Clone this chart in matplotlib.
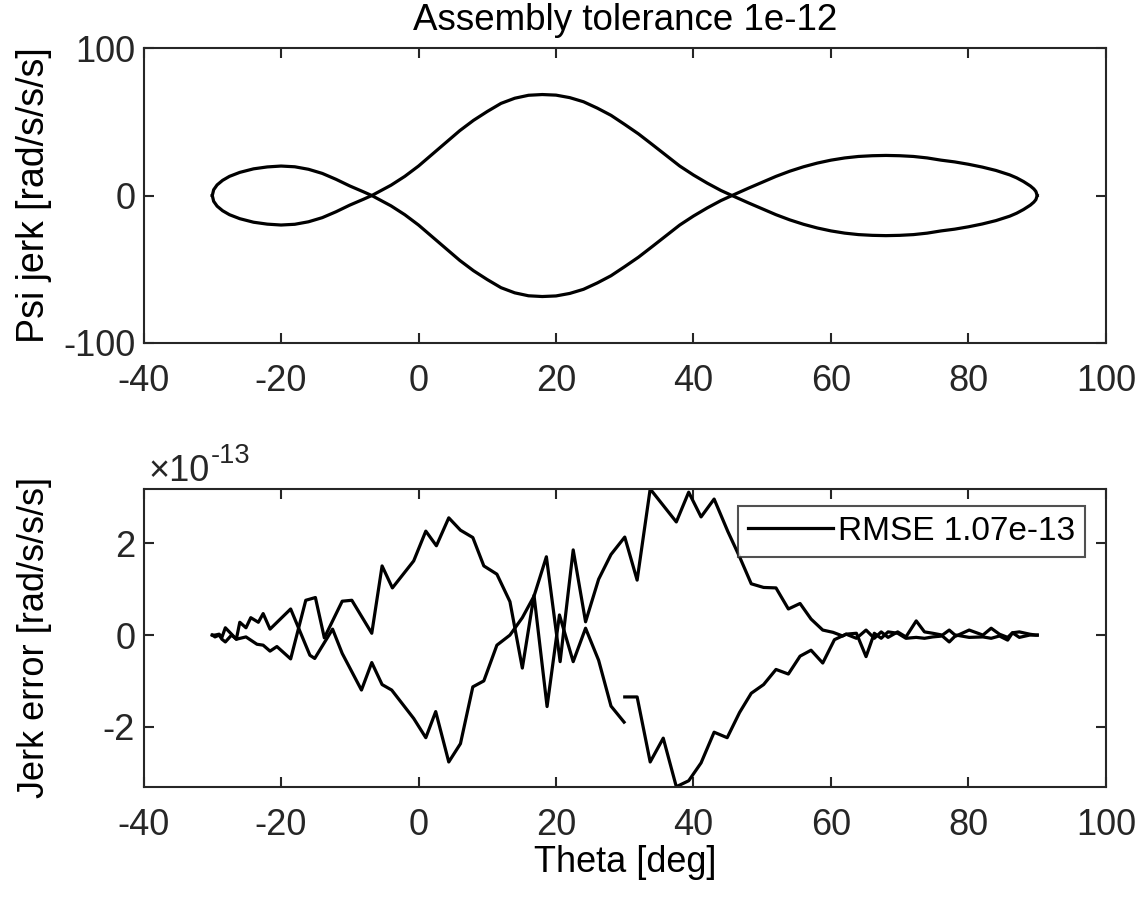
import numpy as np
import matplotlib
matplotlib.use("Agg")
import matplotlib.pyplot as plt
from matplotlib.ticker import FuncFormatter

plt.rcParams['font.family'] = ['Liberation Sans', 'DejaVu Sans']
plt.rcParams['axes.unicode_minus'] = False

# ---- top panel: psi jerk vs theta (two branches of a closed loop) ----
theta_psi = [-30, -29.8, -29.3, -28.5, -27.5, -26, -24, -22, -20, -18, -16, -14, -12,
             -10, -8, -6.8, -4, -2, 0, 2, 4, 6, 8, 10, 12, 14, 16, 18, 20, 22, 24, 26,
             28, 30, 32, 34, 36, 38, 40, 42, 44, 45.6, 48, 50, 52, 54, 56, 58, 60, 62,
             64, 66, 68, 70, 72, 74, 76, 78, 80, 82, 84, 86, 87, 88, 89, 89.5, 89.8, 90]
psi_upper = [0, 3.9, 7.2, 10.3, 13, 15.7, 18.1, 19.4, 20, 19.5, 17.8, 15, 11,
             6.5, 2.5, 0, -7, -13, -20, -28, -36, -44, -51, -57, -62.5, -66, -68, -68.5,
             -68.1, -66.4, -63.6, -59.3, -54.4, -48.2, -41.8, -34.6, -27.3, -20, -13.9,
             -8.4, -3.4, 0,
             5, 9, 13, 16.5, 19.5, 22, 24, 25.5, 26.5, 27, 27.2, 27, 26.5, 25.5, 24,
             22.8, 21.2, 19.3, 17, 14, 12, 9.5, 6.5, 4.5, 2.8, 0]
psi_lower = [0, -3.9, -7.2, -10.3, -13, -15.7, -18.1, -19.4, -20, -19.5, -17.8, -15, -11,
             -6.5, -2.5, 0, 7, 13, 20, 28, 36, 44, 51, 57, 62.5, 66, 68, 68.5,
             68.1, 66.4, 63.6, 59.3, 54.4, 48.2, 41.8, 34.6, 27.3, 20, 13.9,
             8.4, 3.4, 0,
             -5, -9, -13, -16.5, -19.5, -22, -24, -25.5, -26.5, -27, -27.2, -27, -26.5,
             -25.5, -24, -22.8, -21.2, -19.3, -17, -14, -12, -9.5, -6.5, -4.5, -2.8, 0]

# ---- bottom panel: jerk error (units of 1e-13) ----
err_scale = 1e-13
theta_a = [-30, -29.6, -29.0, -28.6, -28.1, -27.2, -26.5, -26.0, -25.1, -24.4, -23.3,
           -22.6, -21.6, -20.1, -18.6, -15.8, -15.1, -12.5, -11.1, -8.3, -6.8, -5.3,
           -3.9, -0.7, 1.06, 2.5, 4.4, 6.1, 7.9, 9.5, 11.4, 13.3, 15.1, 16.8, 18.6,
           20.6, 22.5, 24.3, 26.2, 28.0, 30.0, 31.8, 33.7, 37.5, 39.3, 41.1, 43.0,
           45.0, 46.7, 48.4, 50.2, 52.0, 53.8, 55.5, 57.1, 58.8, 60.3, 61.7, 62.2,
           63.7, 65.1, 66.3, 67.3, 68.3, 69.7, 70.9, 72.4, 73.6, 74.8, 76.2, 77.2,
           78.2, 80.1, 82.1, 83.3, 84.5, 85.7, 86.4, 87.4, 88.9, 89.8, 90]
err_a = [0, 0, 0.02, -0.05, 0.16, 0.02, -0.09, 0.28, 0.16, 0.38, 0.28,
         0.47, 0.13, 0.35, 0.57, -0.44, -0.51, 0.13, -0.4, -1.2, -0.6, -1.08,
         -1.2, -1.82, -2.24, -1.67, -2.77, -2.37, -1.13, -1.0, -0.22, 0.0, 0.38, 0.85, 1.71,
         -0.58, 1.86, 0.29, 1.22, 1.76, 2.14, 1.2, 3.19, 2.47, 3.12, 2.58, 2.97,
         2.26, 1.71, 1.12, 1.04, 1.03, 0.57, 0.69, 0.35, 0.11, 0.06, -0.02, 0.02,
         -0.07, 0.11, -0.07, 0.07, -0.05, 0.07, -0.04, 0.31, 0.07, 0.04, 0.0, 0.11,
         -0.02, 0.11, 0.0, 0.15, 0.02, -0.05, 0.05, 0.07, 0.02, 0.0, 0]
theta_b = [-30, -29.6, -29.0, -28.6, -28.1, -27.2, -26.5, -25.1, -23.5, -22.6, -21.6,
           -20.6, -18.6, -16.4, -15.0, -13.7, -11.1, -9.7, -6.8, -5.3, -3.8, -0.7,
           1.06, 2.6, 4.4, 6.1, 7.9, 9.5, 11.4, 13.3, 15.1, 16.8, 18.7, 20.5, 22.5,
           24.3, 26.2, 28.0, 29.9]
err_b = [0, -0.04, 0.0, -0.09, -0.15, 0.0, -0.09, -0.04, -0.2, -0.22, -0.35,
         -0.25, -0.52, 0.76, 0.82, -0.06, 0.74, 0.76, 0.04, 1.51, 1.03, 1.62,
         2.27, 1.95, 2.56, 2.29, 2.13, 1.51, 1.33, 0.73, -0.72, 0.87, -1.56, 0.44, -0.58,
         0.15, -0.55, -1.55, -1.9]
theta_c = [30.0, 31.8, 33.7, 35.6, 37.5, 39.3, 41.1, 43.0, 44.9, 46.7, 48.4, 50.2,
           52.0, 53.8, 55.5, 57.1, 58.8, 60.5, 62.2, 63.7, 65.1, 66.3, 67.3, 68.3,
           69.7, 70.9, 72.4, 73.6, 74.8, 76.2, 77.2, 78.2, 80.1, 82.1, 83.3, 84.5,
           85.7, 86.4, 87.4, 88.9, 89.8, 90]
err_c = [-1.35, -1.35, -2.77, -2.25, -3.31, -3.18, -2.79, -2.12, -2.24, -1.69, -1.27, -1.08,
         -0.75, -0.85, -0.46, -0.33, -0.61, -0.1, 0.02, 0.04, -0.47, 0.04, -0.07, 0.07,
         0.04, -0.07, -0.05, -0.07, -0.04, -0.02, -0.15, 0.0, -0.05, -0.04, -0.07, -0.02,
         -0.11, 0.05, -0.05, 0.0, 0.0, 0]
rmse_label = 'RMSE 1.07e-13'

xticks = [-40, -20, 0, 20, 40, 60, 80, 100]
fs = 26
lw = 2.3
axcol = '#262626'

fig = plt.figure(figsize=(11.41, 8.99), dpi=100)
ax1 = fig.add_axes([0.1258, 0.6185, 0.8435, 0.328])
ax2 = fig.add_axes([0.1258, 0.1249, 0.8435, 0.3312])

ax1.plot(theta_psi, psi_upper, color='black', lw=lw)
ax1.plot(theta_psi, psi_lower, color='black', lw=lw)
ax1.set_xlim(-40, 100)
ax1.set_ylim(-100, 100)
ax1.set_yticks([-100, 0, 100])
ax1.set_xticks(xticks)
ax1.set_ylabel('Psi jerk [rad/s/s/s]', fontsize=fs + 1)
ax1.set_title('Assembly tolerance 1e-12', fontsize=fs + 0.5, pad=13)

err_all = np.array(err_a + err_b + err_c) * err_scale
ax2.plot(theta_a, np.array(err_a) * err_scale, color='black', lw=lw, label=rmse_label)
ax2.plot(theta_b, np.array(err_b) * err_scale, color='black', lw=lw)
ax2.plot(theta_c, np.array(err_c) * err_scale, color='black', lw=lw)
ax2.set_xlim(-40, 100)
ax2.set_ylim(err_all.min(), err_all.max())
ax2.set_yticks(np.array([-2, 0, 2]) * err_scale)
ax2.set_xticks(xticks)
ax2.yaxis.set_major_formatter(FuncFormatter(lambda v, p: f'{v / err_scale:g}'))
# exponent label in the MATLAB style
t10 = ax2.text(0.005, 1.027, '×10', transform=ax2.transAxes, fontsize=fs,
               ha='left', va='baseline', color=axcol)
ax2.annotate('-13', xy=(1, 1), xycoords=t10, xytext=(1, 8), textcoords='offset points',
             fontsize=fs * 0.75, ha='left', va='top', color=axcol)
ax2.set_ylabel('Jerk error [rad/s/s/s]', fontsize=fs)
ax2.set_xlabel('Theta [deg]', fontsize=fs)
leg = ax2.legend(loc='upper right', bbox_to_anchor=(0.978, 0.943), fontsize=24,
                 frameon=True, fancybox=False, handlelength=2.55, handletextpad=0.15,
                 borderpad=0.3, borderaxespad=0)
leg.get_frame().set_edgecolor(axcol)
leg.get_frame().set_linewidth(1.5)

for ax in (ax1, ax2):
    for s in ax.spines.values():
        s.set_color(axcol)
        s.set_linewidth(1.5)
    ax.tick_params(direction='in', length=7, width=1.5, color=axcol, labelsize=fs,
                   labelcolor=axcol, top=True, right=True)
    ax.tick_params(axis='x', pad=15)
    ax.tick_params(axis='y', pad=6)
    ax.yaxis.set_label_coords(-0.095, 0.5)
ax2.xaxis.set_label_coords(0.5, -0.197)

fig.savefig('out.png', dpi=100)
